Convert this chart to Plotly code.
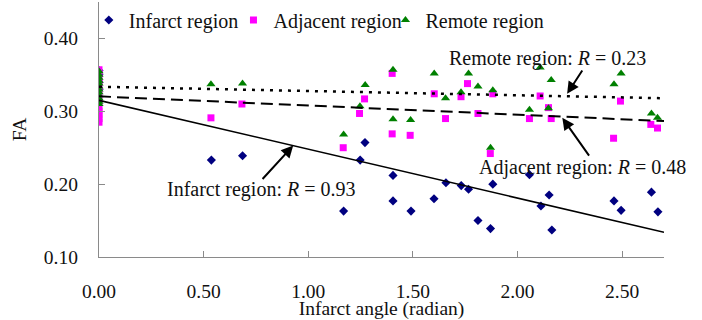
import plotly.graph_objects as go

# ---------------- data ----------------
infarct_x = [0, 0, 0, 0, 0.537, 0.686, 1.169, 1.248, 1.271, 1.405, 1.405, 1.491, 1.601, 1.658,
             1.731, 1.766, 1.811, 1.871, 1.882, 2.057, 2.112, 2.151, 2.164, 2.461, 2.495, 2.640, 2.671]
infarct_y = [0.356, 0.350, 0.340, 0.330, 0.233, 0.239, 0.163, 0.233, 0.257, 0.212, 0.177, 0.163,
             0.180, 0.202, 0.198, 0.193, 0.150, 0.139, 0.200, 0.213, 0.170, 0.185, 0.137, 0.177,
             0.164, 0.189, 0.162]

adjacent_x = [0, 0, 0, 0, 0, 0, 0, 0, 0, 0, 0, 0, 0.535, 0.683, 1.167, 1.245, 1.269, 1.401, 1.401,
              1.487, 1.602, 1.656, 1.730, 1.761, 1.811, 1.870, 1.882, 2.057, 2.108, 2.161, 2.148,
              2.459, 2.492, 2.637, 2.669]
adjacent_y = [0.357, 0.352, 0.345, 0.340, 0.332, 0.325, 0.315, 0.305, 0.300, 0.295, 0.290, 0.285,
              0.291, 0.310, 0.250, 0.297, 0.317, 0.352, 0.269, 0.267, 0.324, 0.290, 0.320, 0.338,
              0.297, 0.242, 0.324, 0.290, 0.321, 0.290, 0.305, 0.263, 0.314, 0.282, 0.277]

remote_x = [0, 0, 0, 0, 0, 0, 0, 0, 0, 0, 0, 0, 0.535, 0.686, 1.169, 1.247, 1.272, 1.405, 1.405,
            1.489, 1.602, 1.656, 1.730, 1.766, 1.811, 1.871, 1.882, 2.057, 2.108, 2.148, 2.161,
            2.461, 2.495, 2.640, 2.669]
remote_y = [0.355, 0.350, 0.346, 0.342, 0.338, 0.334, 0.330, 0.326, 0.322, 0.318, 0.313, 0.310,
            0.337, 0.338, 0.268, 0.307, 0.336, 0.357, 0.289, 0.288, 0.352, 0.318, 0.326, 0.352,
            0.334, 0.250, 0.329, 0.302, 0.360, 0.304, 0.343, 0.337, 0.352, 0.297, 0.291]

# linear trend lines (end points of the fitted lines)
trend_x = [0.0, 2.7]
infarct_fit = [0.315, 0.134]
adjacent_fit = [0.3205, 0.2866]
remote_fit = [0.3337, 0.3179]

series_names = ["Infarct region", "Adjacent region", "Remote region"]
r_values = ["0.93", "0.48", "0.23"]

x_ticks = [0.0, 0.5, 1.0, 1.5, 2.0, 2.5]
y_ticks = [0.1, 0.2, 0.3, 0.4]

# ---------------- figure ----------------
FONT = "Liberation Serif, Times New Roman, serif"
FS = 19.5
AXC = "#8a8a8a"

fig = go.Figure()

fig.add_trace(go.Scatter(x=infarct_x, y=infarct_y, mode="markers", name=series_names[0],
                         marker=dict(symbol="diamond", size=7, color="#000080"),
                         legend="legend"))
fig.add_trace(go.Scatter(x=adjacent_x, y=adjacent_y, mode="markers", name=series_names[1],
                         marker=dict(symbol="square", size=7, color="#FF00FF"),
                         legend="legend2"))
fig.add_trace(go.Scatter(x=remote_x, y=remote_y, mode="markers", name=series_names[2],
                         marker=dict(symbol="triangle-up", size=8, color="#008000"),
                         legend="legend3"))

fig.add_trace(go.Scatter(x=trend_x, y=infarct_fit, mode="lines", showlegend=False,
                         line=dict(color="black", width=1.6)))
fig.add_trace(go.Scatter(x=trend_x, y=adjacent_fit, mode="lines", showlegend=False,
                         line=dict(color="black", width=2, dash="12px,6px")))
fig.add_trace(go.Scatter(x=trend_x, y=remote_fit, mode="lines", showlegend=False,
                         line=dict(color="black", width=2.5, dash="3px,6px")))

# annotations: text labels
labels = [
    (0.776, 0.192, f"{series_names[0]}: <i>R</i> = {r_values[0]}"),
    (2.310, 0.223, f"{series_names[1]}: <i>R</i> = {r_values[1]}"),
    (2.142, 0.372, f"{series_names[2]}: <i>R</i> = {r_values[2]}"),
]
for x, y, t in labels:
    fig.add_annotation(x=x, y=y, text=t, showarrow=False, xanchor="center", yanchor="middle",
                       font=dict(family=FONT, size=20, color="#111"))

# arrows (head -> tail)
arrows = [
    (0.928, 0.253, 0.775, 0.205),
    (2.214, 0.291, 2.347, 0.237),
    (2.237, 0.324, 2.314, 0.358),
]
for hx, hy, tx, ty in arrows:
    fig.add_annotation(x=hx, y=hy, ax=tx, ay=ty, xref="x", yref="y", axref="x", ayref="y",
                       text="", showarrow=True, arrowhead=2, arrowsize=1.2, arrowwidth=2,
                       arrowcolor="black", standoff=0, startstandoff=0)

legend_common = dict(orientation="h", yanchor="middle", y=0.926, xanchor="left",
                     bgcolor="rgba(0,0,0,0)", font=dict(family=FONT, size=20, color="#111"),
                     itemwidth=30)

fig.update_layout(
    width=702, height=320,
    margin=dict(l=99, r=38, t=1, b=63),
    paper_bgcolor="white", plot_bgcolor="white",
    font=dict(family=FONT, size=FS, color="#111"),
    legend=dict(**legend_common, x=-0.018),
    legend2=dict(**legend_common, x=0.238),
    legend3=dict(**legend_common, x=0.507),
    xaxis=dict(range=[0, 2.7], tickvals=x_ticks, tickformat=".2f", showgrid=False, zeroline=False,
               showline=True, linecolor=AXC, linewidth=1.3, ticks="inside", ticklen=6,
               tickcolor=AXC, tickwidth=1, ticklabelstandoff=16,
               title=dict(text="Infarct angle (radian)", standoff=5,
                          font=dict(family=FONT, size=FS, color="#111"))),
    yaxis=dict(range=[0.1, 0.45], tickvals=y_ticks, tickformat=".2f", showgrid=False, zeroline=False,
               showline=True, linecolor=AXC, linewidth=1.3, ticks="inside", ticklen=6,
               tickcolor=AXC, tickwidth=1, ticklabelstandoff=16,
               title=dict(text="FA", standoff=12,
                          font=dict(family=FONT, size=FS, color="#111"))),
)

fig.write_html("out.html", config={"displayModeBar": False},
               post_script="document.body.style.margin='0';")
